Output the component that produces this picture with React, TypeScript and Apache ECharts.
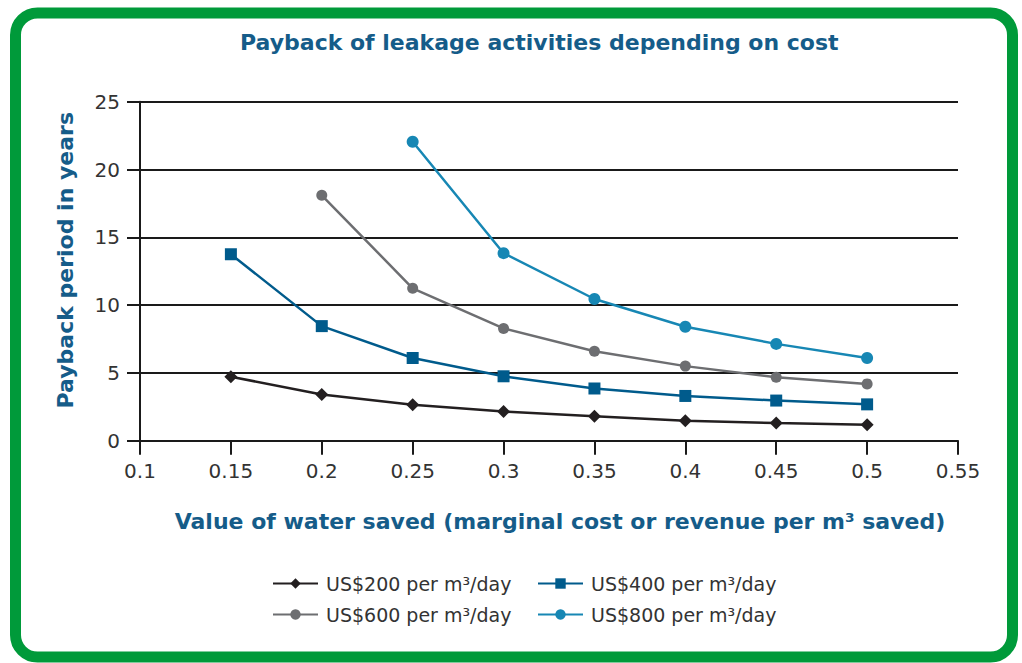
import React, { useEffect, useRef } from "react";
import * as echarts from "echarts";

const xValues = [0.15, 0.2, 0.25, 0.3, 0.35, 0.4, 0.45, 0.5];
const cost200 = [4.72, 3.4, 2.65, 2.15, 1.8, 1.47, 1.3, 1.18];
const cost400 = [13.75, 8.45, 6.1, 4.75, 3.85, 3.3, 2.96, 2.68];
const cost600 = [null, 18.1, 11.24, 8.28, 6.6, 5.5, 4.68, 4.19];
const cost800 = [null, null, 22.05, 13.83, 10.45, 8.4, 7.14, 6.1];
const seriesNames = [
  "US$200 per m³/day",
  "US$400 per m³/day",
  "US$600 per m³/day",
  "US$800 per m³/day",
];
const titleText = "Payback of leakage activities depending on cost";
const yName = "Payback period in years";
const xName = "Value of water saved (marginal cost or revenue per m³ saved)";

const FONT = "'DejaVu Sans', 'Open Sans', sans-serif";
const BOLD_FONT = "'DejaVu Sans', Roboto, sans-serif";
const HEAD = "#155c89";

function pairs(vals: (number | null)[]) {
  const out: [number, number][] = [];
  vals.forEach((v, i) => {
    if (v !== null) out.push([xValues[i], v]);
  });
  return out;
}

export default function App() {
  const ref = useRef<HTMLDivElement>(null);
  useEffect(() => {
    if (!ref.current) return;
    const chart = echarts.init(ref.current, undefined, { renderer: "svg" });
    const styles = [
      { color: "#231f20", symbol: "diamond", size: 13 },
      { color: "#005b8c", symbol: "rect", size: 12 },
      { color: "#6d6e71", symbol: "circle", size: 11 },
      { color: "#1787b4", symbol: "circle", size: 12 },
    ];
    const data = [cost200, cost400, cost600, cost800];
    const legendPos = [
      { left: 272, top: 574 },
      { left: 537, top: 574 },
      { left: 272, top: 605 },
      { left: 537, top: 605 },
    ];
    chart.setOption({
      animation: false,
      backgroundColor: "#ffffff",
      title: {
        text: titleText,
        left: 240,
        top: 31,
        padding: 0,
        textStyle: {
          fontFamily: BOLD_FONT,
          fontWeight: "bold",
          fontSize: 22,
          color: HEAD,
        },
      },
      graphic: [
        {
          type: "rect",
          shape: { x: 15.5, y: 13, width: 997, height: 644, r: 22 },
          style: { fill: "none", stroke: "#009a3a", lineWidth: 11 },
          z: 100,
        },
      ],
      legend: legendPos.map((p, i) => ({
        data: [seriesNames[i]],
        left: p.left,
        top: p.top,
        padding: 0,
        itemWidth: 45,
        itemHeight: 13,
        textStyle: {
          fontFamily: FONT,
          fontSize: 19,
          color: "#333",
          padding: [0, 0, 0, 3],
        },
      })),
      grid: { left: 140, top: 101.7, width: 818, height: 339 },
      xAxis: {
        type: "value",
        min: 0.1,
        max: 0.55,
        interval: 0.05,
        name: xName,
        nameLocation: "middle",
        nameGap: 70,
        nameTextStyle: {
          fontFamily: BOLD_FONT,
          fontWeight: "bold",
          fontSize: 22,
          color: HEAD,
          padding: [0, 0, 0, 22],
        },
        axisLine: { lineStyle: { color: "#1a1a1a", width: 2 } },
        axisTick: { show: true, length: 14, lineStyle: { color: "#1a1a1a", width: 2 } },
        splitLine: { show: false },
        axisLabel: {
          margin: 20,
          fontFamily: FONT,
          fontSize: 20,
          color: "#333",
          formatter: (v: number) => String(+v.toFixed(2)),
        },
      },
      yAxis: {
        type: "value",
        min: 0,
        max: 25,
        interval: 5,
        name: yName,
        nameLocation: "middle",
        nameGap: 64,
        nameTextStyle: {
          fontFamily: BOLD_FONT,
          fontWeight: "bold",
          fontSize: 22,
          color: HEAD,
          padding: [0, 0, 0, 22],
        },
        axisLine: { show: true, lineStyle: { color: "#1a1a1a", width: 2 } },
        axisTick: { show: true, length: 13, lineStyle: { color: "#1a1a1a", width: 2 } },
        splitLine: { show: true, lineStyle: { color: "#1a1a1a", width: 2 } },
        axisLabel: {
          margin: 20,
          fontFamily: FONT,
          fontSize: 20,
          color: "#333",
        },
      },
      series: data.map((d, i) => ({
        type: "line",
        name: seriesNames[i],
        data: pairs(d),
        symbol: styles[i].symbol,
        symbolSize: styles[i].size,
        showSymbol: true,
        lineStyle: { color: styles[i].color, width: 2.5 },
        itemStyle: { color: styles[i].color },
        z: 3 + i,
      })),
    });
    return () => chart.dispose();
  }, []);
  return (
    <div
      ref={ref}
      style={{ position: "absolute", left: 0, top: 0, width: 1022, height: 663 }}
    />
  );
}
